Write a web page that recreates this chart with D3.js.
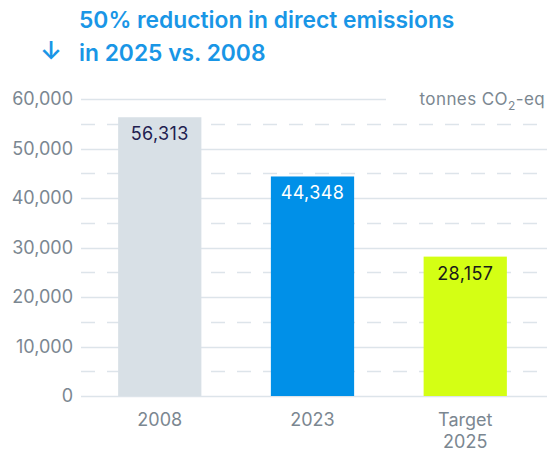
<!DOCTYPE html>
<html>
<head>
<meta charset="utf-8">
<script src="https://cdn.jsdelivr.net/npm/d3@7"></script>
<style>
  body { margin: 0; background: #fff; }
  svg { display: block; font-family: Inter, "Noto Sans", sans-serif; }
</style>
</head>
<body>
<div id="chart"></div>
<script>
// Direct emissions, tonnes CO2-eq
var categories = ["2008", "2023", "Target 2025"];
var values = [56313, 44348, 28157];
var yTicks = [0, 10000, 20000, 30000, 40000, 50000, 60000];
var yMinorTicks = [5000, 15000, 25000, 35000, 45000, 55000];

var barColors = ["#d8e0e6", "#0090e8", "#d4ff14"];
var labelColors = ["#1f2050", "#ffffff", "#1a1a1a"];

var width = 547, height = 452;
var margin = { top: 99, right: 5, bottom: 56, left: 81 };

var svg = d3.select("#chart").append("svg")
    .attr("width", width)
    .attr("height", height);

var x = d3.scaleBand()
    .domain(categories)
    .range([margin.left + 2, width - margin.right])
    .paddingInner(0.455)
    .paddingOuter(0.23);

var y = d3.scaleLinear()
    .domain([0, 60000])
    .range([height - margin.bottom, margin.top]);

var fmt = d3.format(",");

// Title
var title = svg.append("g").attr("fill", "#1996e6").style("font-weight", 600).style("font-size", "22.8px");
title.append("text").attr("x", 79).attr("y", 28).text("50% reduction in direct emissions");
title.append("text").attr("x", 79).attr("y", 61).text("in 2025 vs. 2008");
title.append("text").attr("x", 40).attr("y", 60).style("font-size", "25px").style("font-weight", 600).text("\u2193");

// Gridlines
svg.append("g")
  .selectAll("line")
  .data(yMinorTicks)
  .enter().append("line")
    .attr("x1", margin.left)
    .attr("x2", width)
    .attr("y1", function(d) { return Math.round(y(d)) + 0.5; })
    .attr("y2", function(d) { return Math.round(y(d)) + 0.5; })
    .attr("stroke", "#dde4ea")
    .attr("stroke-width", 1.5)
    .attr("stroke-dasharray", "14,12");

svg.append("g")
  .selectAll("line")
  .data(yTicks)
  .enter().append("line")
    .attr("x1", margin.left)
    .attr("x2", function(d) { return d === 60000 ? 386 : width; })
    .attr("y1", function(d) { return Math.round(y(d)) + 0.5; })
    .attr("y2", function(d) { return Math.round(y(d)) + 0.5; })
    .attr("stroke", "#dde4ea")
    .attr("stroke-width", 1.5);

// Y axis labels
svg.append("g")
  .selectAll("text")
  .data(yTicks)
  .enter().append("text")
    .attr("x", 73)
    .attr("y", function(d) { return y(d); })
    .attr("dy", "0.35em")
    .attr("text-anchor", "end")
    .attr("fill", "#7b8791")
    .style("font-size", "18px")
    .text(function(d) { return fmt(d); });

// Unit
var unit = svg.append("text")
    .attr("x", 545)
    .attr("y", y(60000) + 6)
    .attr("text-anchor", "end")
    .attr("fill", "#7b8791")
    .style("font-size", "17px")
    .style("letter-spacing", "0.4px");
unit.append("tspan").text("tonnes CO");
unit.append("tspan").attr("dy", 5).style("font-size", "12px").text("2");
unit.append("tspan").attr("dy", -5).text("-eq");

// Bars
svg.append("g")
  .selectAll("rect")
  .data(values)
  .enter().append("rect")
    .attr("x", function(d, i) { return x(categories[i]); })
    .attr("width", x.bandwidth())
    .attr("y", function(d) { return y(d); })
    .attr("height", function(d) { return y(0) - y(d); })
    .attr("fill", function(d, i) { return barColors[i]; });

// Value labels
svg.append("g")
  .selectAll("text")
  .data(values)
  .enter().append("text")
    .attr("x", function(d, i) { return x(categories[i]) + x.bandwidth() / 2; })
    .attr("y", function(d) { return y(d) + 23; })
    .attr("text-anchor", "middle")
    .attr("fill", function(d, i) { return labelColors[i]; })
    .style("font-size", "18px")
    .style("letter-spacing", "0.4px")
    .text(function(d) { return fmt(d); });

// X labels
var xl = svg.append("g")
  .selectAll("text")
  .data(categories)
  .enter().append("text")
    .attr("x", function(d) { return x(d) + x.bandwidth() / 2; })
    .attr("y", 426)
    .attr("text-anchor", "middle")
    .attr("fill", "#7b8791")
    .style("font-size", "18px");

xl.each(function(d) {
  var words = d === "Target 2025" ? ["Target", "2025"] : [d];
  var t = d3.select(this);
  words.forEach(function(w, k) {
    t.append("tspan")
      .attr("x", x(d) + x.bandwidth() / 2)
      .attr("dy", k === 0 ? 0 : 22)
      .text(w);
  });
});
</script>
</body>
</html>
